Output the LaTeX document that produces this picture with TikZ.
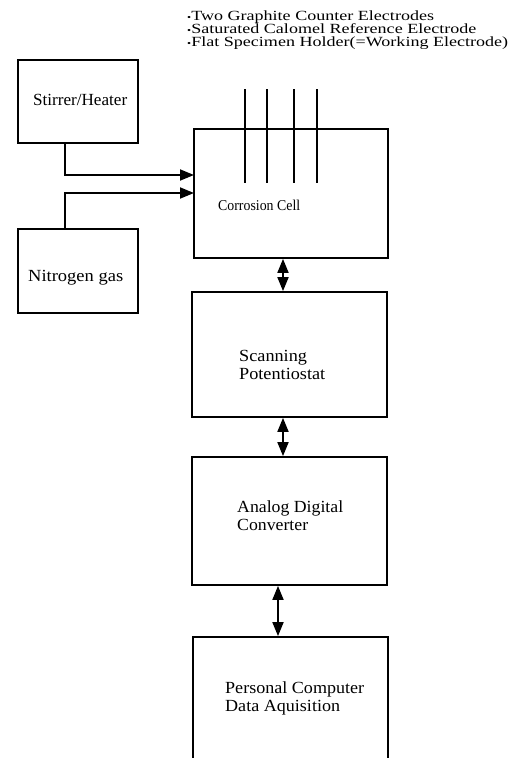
\documentclass[tikz,border=0pt]{standalone}
\usepackage{fontspec}
\usepackage{graphicx}
\setmainfont{Liberation Serif}
\usetikzlibrary{arrows.meta}
\newcommand{\fitto}[2]{\resizebox{#1}{\height}{\begin{tabular}[t]{@{}l@{}}#2\end{tabular}}}
\tikzset{
  box/.style={draw, line width=1.8pt, inner sep=0pt},
  lbl/.style={anchor=base west, inner sep=0pt, font=\fontsize{17}{18}\selectfont},
  conn/.style={line width=1.8pt},
  arr/.style={line width=1.8pt, -{Triangle[length=14pt,width=11pt]}},
  darr/.style={line width=1.8pt, {Triangle[length=14pt,width=11pt]}-{Triangle[length=14pt,width=11pt]}},
  electrode/.style={line width=2.2pt}
}
\begin{document}
\begin{tikzpicture}[x=1pt,y=-1pt]
\useasboundingbox (0,0) rectangle (531,758);
\clip (0,0) rectangle (531,758);
% boxes
\node[box, minimum width=120pt, minimum height=83pt] (stir) at (78,101.5) {};
\node[box, minimum width=120pt, minimum height=84pt] (nitro) at (78,271) {};
\node[box, minimum width=194pt, minimum height=129pt] (cell) at (291,193.5) {};
\node[box, minimum width=195pt, minimum height=125pt] (pot) at (289.5,354.5) {};
\node[box, minimum width=195pt, minimum height=128pt] (adc) at (289.5,521) {};
\node[box, minimum width=195pt, minimum height=200pt] (pc) at (290.5,737) {};
% texts
\node[anchor=base west, inner sep=0pt, font=\fontsize{14}{12.3}\selectfont] (notes) at (187,20)
  {\fitto{321pt}{{\small\textbullet}Two Graphite Counter Electrodes\\{\small\textbullet}Saturated Calomel Reference Electrode\\{\small\textbullet}Flat Specimen Holder(=Working Electrode)}};
\node[lbl] (stirT) at (33,105) {\fitto{94pt}{Stirrer/Heater}};
\node[lbl] (nitroT) at (28,281) {\fitto{95pt}{Nitrogen gas}};
\node[lbl, font=\fontsize{15}{18}\selectfont] (cellT) at (218,210) {\fitto{82pt}{Corrosion Cell}};
\node[lbl] (potT) at (239,361) {\fitto{86pt}{Scanning\\Potentiostat}};
\node[lbl] (adcT) at (237,512) {\fitto{106pt}{Analog Digital\\Converter}};
\node[lbl] (pcT) at (225,693) {\fitto{139pt}{Personal Computer\\Data Aquisition}};
% electrodes
\foreach \ex in {245,267,294,317} \draw[electrode] (\ex,89) -- (\ex,183);
% inlets
\coordinate (in1) at (194,175);
\coordinate (in2) at (194,193);
\draw[arr] ([xshift=-13pt]stir.south) |- (in1);
\draw[arr] ([xshift=-13pt]nitro.north) |- (in2);
% chain
\draw[darr] ([xshift=-8pt]cell.south) -- ([xshift=-8pt]cell.south |- pot.north);
\draw[darr] ([xshift=-6.5pt]pot.south) -- ([xshift=-6.5pt]pot.south |- adc.north);
\draw[darr] ([xshift=-11.5pt]adc.south) -- ([xshift=-11.5pt]adc.south |- pc.north);
\end{tikzpicture}
\end{document}
